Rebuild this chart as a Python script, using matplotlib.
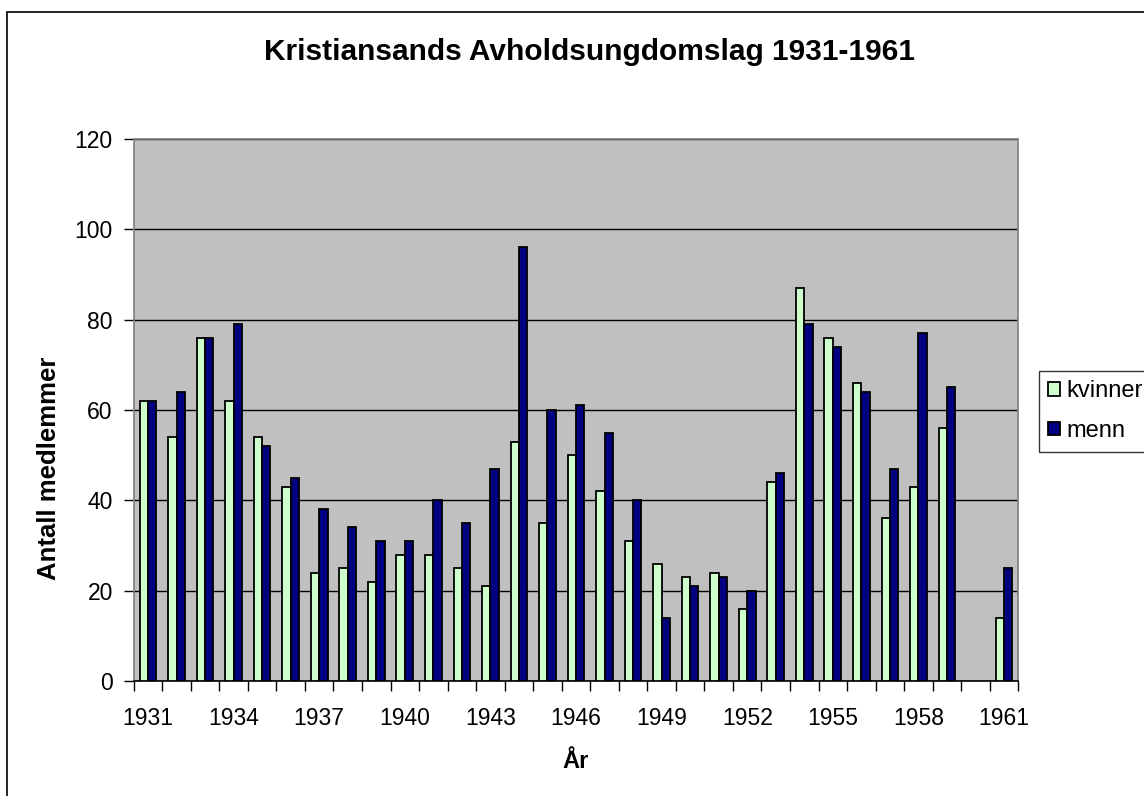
import numpy as np
import matplotlib
matplotlib.use("Agg")
import matplotlib.pyplot as plt
from matplotlib.patches import Rectangle

years = list(range(1931, 1962))
kvinner = [62, 54, 76, 62, 54, 43, 24, 25, 22, 28, 28, 25, 21, 53, 35, 50, 42, 31, 26, 23,
           24, 16, 44, 87, 76, 66, 36, 43, 56, np.nan, 14]
menn = [62, 64, 76, 79, 52, 45, 38, 34, 31, 31, 40, 35, 47, 96, 60, 61, 55, 40, 14, 21,
        23, 20, 46, 79, 74, 64, 47, 77, 65, np.nan, 25]
tick_labels = [str(y) for y in years[::3]]

plt.rcParams['font.family'] = ['Liberation Sans', 'DejaVu Sans']

W, H = 1144, 796
fig = plt.figure(figsize=(W / 100, H / 100), dpi=100)
fig.patch.set_facecolor('white')

L, R, T, B = 133.7, 1018.3, 139, 681
ax = fig.add_axes([L / W, 1 - B / H, (R - L) / W, (B - T) / H])
ax.set_facecolor('#C0C0C0')

x = np.arange(len(years))
bw = 0.2925
ax.bar(x - bw / 2, kvinner, width=bw, color='#CCFFCC', edgecolor='black', linewidth=1.3,
       label='kvinner', zorder=3)
ax.bar(x + bw / 2, menn, width=bw, color='#000080', edgecolor='black', linewidth=1.3,
       label='menn', zorder=3)

ax.set_xlim(-0.5, len(years) - 0.5)
ax.set_ylim(0, 120)
ax.set_yticks(np.arange(0, 121, 20))
ax.yaxis.grid(True, color='black', linewidth=1.0, zorder=1)
ax.set_axisbelow(True)

ax.set_xticks(x[::3])
ax.set_xticklabels(tick_labels)
ax.set_xticks(np.arange(-0.5, len(years), 1.0), minor=True)
ax.tick_params(axis='x', which='major', length=0, pad=19, labelsize=16.5)
ax.tick_params(axis='x', which='minor', length=7, width=1, direction='out', color='black')
ax.tick_params(axis='y', length=7, width=1, direction='out', pad=8, labelsize=16.5, color='black')

for s in ['top', 'right', 'left']:
    ax.spines[s].set_color('#808080')
    ax.spines[s].set_linewidth(1.2)
ax.spines['bottom'].set_color('black')
ax.spines['bottom'].set_linewidth(1.2)

fig.text(589 / W, 1 - 52 / H, 'Kristiansands Avholdsungdomslag 1931-1961',
         ha='center', va='center', fontsize=21.5, fontweight='bold')
fig.text(576 / W, 1 - 761 / H, 'År', ha='center', va='center', fontsize=17, fontweight='bold')
fig.text(49 / W, 1 - 468 / H, 'Antall medlemmer', ha='center', va='center', rotation=90,
         fontsize=18.5, fontweight='bold')

leg = ax.legend(loc='upper left', bbox_to_anchor=(1039 / W, 1 - 371 / H),
                bbox_transform=fig.transFigure, frameon=True, fancybox=False,
                fontsize=17, handlelength=0.5, handleheight=0.5, handletextpad=0.25,
                borderpad=0.4, labelspacing=0.75, borderaxespad=0)
leg.get_frame().set_edgecolor('black')
leg.get_frame().set_linewidth(1.0)

fig.patches.append(Rectangle((7 / W, -0.1), 2, 1 - 12 / H + 0.1, transform=fig.transFigure,
                             fill=False, edgecolor='black', linewidth=1.2))

fig.savefig('out.png', dpi=100)
